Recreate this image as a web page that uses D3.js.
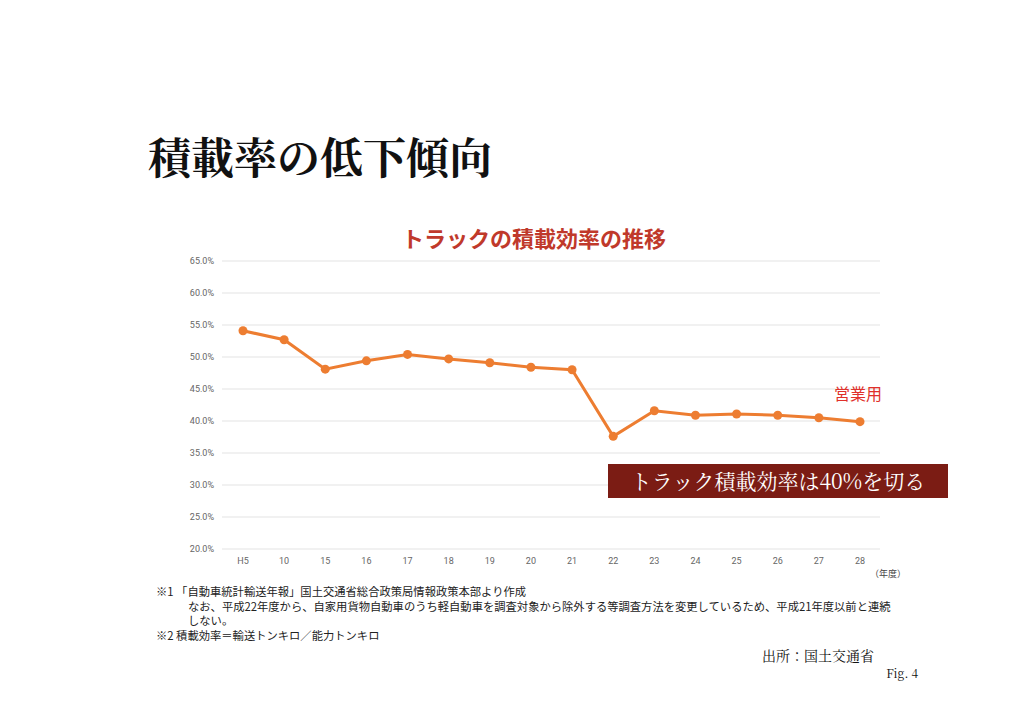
<!DOCTYPE html>
<html><head><meta charset="utf-8">
<script src="https://cdn.jsdelivr.net/npm/d3@7"></script>
<style>body{margin:0;background:#fff}</style>
</head><body>
<script>
var years = ['H5','10','15','16','17','18','19','20','21','22','23','24','25','26','27','28'];
var loadRate = [54.1,52.7,48.1,49.4,50.4,49.7,49.1,48.4,48.0,37.6,41.6,40.9,41.1,40.9,40.5,39.9];
var yTicks = [20,25,30,35,40,45,50,55,60,65];

var svg = d3.select('body').append('svg').attr('width',1024).attr('height',724);
var jp = '"Noto Sans CJK JP", sans-serif';
var serif = '"Noto Serif CJK JP", "DejaVu Serif", serif';

svg.append('text').attr('x',148).attr('y',174).attr('font-family',serif).attr('font-size',43)
    .attr('font-weight','bold').attr('fill','#111').text('積載率の低下傾向');

svg.append('text').attr('x',534).attr('y',247).attr('text-anchor','middle').attr('font-family',jp)
    .attr('font-size',22).attr('font-weight','bold').attr('fill','#c0392b').text('トラックの積載効率の推移');

var x = d3.scalePoint().domain(years).range([243,860]);
var y = d3.scaleLinear().domain([20,65]).range([549,261]);

var g = svg.append('g');
g.selectAll('line.grid').data(yTicks).join('line').attr('class','grid')
    .attr('x1',222).attr('x2',880).attr('y1',function(d){return y(d);}).attr('y2',function(d){return y(d);})
    .attr('stroke','#e3e3e3').attr('stroke-width',1);
g.selectAll('text.yl').data(yTicks).join('text').attr('class','yl')
    .attr('x',214).attr('y',function(d){return y(d)+3;}).attr('text-anchor','end')
    .attr('font-family','Roboto, sans-serif').attr('font-size',9).attr('fill','#666')
    .text(function(d){return d.toFixed(1)+'%';});
g.selectAll('text.xl').data(years).join('text').attr('class','xl')
    .attr('x',function(d){return x(d);}).attr('y',564).attr('text-anchor','middle')
    .attr('font-family','Roboto, sans-serif').attr('font-size',9).attr('fill','#666').text(function(d){return d;});
svg.append('text').attr('x',888).attr('y',577).attr('text-anchor','middle').attr('font-family',jp)
    .attr('font-size',9).attr('fill','#444').text('（年度）');

var line = d3.line().x(function(d,i){return x(years[i]);}).y(function(d){return y(d);});
g.append('path').datum(loadRate).attr('d',line).attr('fill','none').attr('stroke','#ed7d31').attr('stroke-width',3);
g.selectAll('circle').data(loadRate).join('circle')
    .attr('cx',function(d,i){return x(years[i]);}).attr('cy',function(d){return y(d);})
    .attr('r',4.5).attr('fill','#ed7d31');

svg.append('text').attr('x',858).attr('y',400).attr('text-anchor','middle').attr('font-family',jp)
    .attr('font-size',16).attr('fill','#e0302a').text('営業用');

svg.append('rect').attr('x',608).attr('y',464).attr('width',340).attr('height',34).attr('fill','#7b1c14');
svg.append('text').attr('x',778).attr('y',489).attr('text-anchor','middle').attr('font-family',serif)
    .attr('font-size',21).attr('fill','#fff').text('トラック積載効率は40%を切る');

var notes = [
  [156,596,'※1 「自動車統計輸送年報」国土交通省総合政策局情報政策本部より作成'],
  [188,611,'なお、平成22年度から、自家用貨物自動車のうち軽自動車を調査対象から除外する等調査方法を変更しているため、平成21年度以前と連続'],
  [188,625,'しない。'],
  [156,640,'※2  積載効率＝輸送トンキロ／能力トンキロ']
];
svg.selectAll('text.note').data(notes).join('text').attr('class','note')
    .attr('x',function(d){return d[0];}).attr('y',function(d){return d[1];})
    .attr('font-family',jp).attr('font-size',11.3).attr('fill','#222').text(function(d){return d[2];});

svg.append('text').attr('x',762).attr('y',661).attr('font-family',serif).attr('font-size',14).attr('fill','#111').text('出所：国土交通省');
svg.append('text').attr('x',918).attr('y',678).attr('text-anchor','end').attr('font-family',serif).attr('font-size',12).attr('fill','#111').text('Fig.    4');
</script>
</body></html>
